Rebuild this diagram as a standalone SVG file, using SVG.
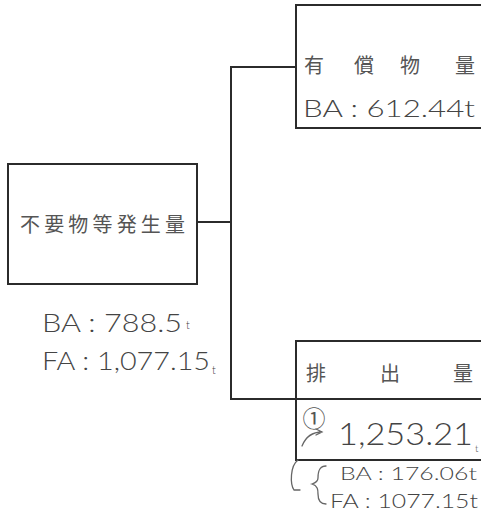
<svg xmlns="http://www.w3.org/2000/svg" width="481" height="516" viewBox="0 0 481 516">
<style>
.box{fill:#fff;stroke:#2b2b2b;stroke-width:2}
.ln{fill:none;stroke:#2b2b2b;stroke-width:2}
.lbl{font-family:"Noto Sans CJK JP","Noto Sans CJK SC",sans-serif;font-size:20px;fill:#555}
.hw{font-family:"Lato","Open Sans","Liberation Sans",sans-serif;font-weight:300;fill:#444}
.hwl{fill:none;stroke:#666;stroke-width:1.3;stroke-linecap:round}
</style>
<rect width="481" height="516" fill="#fff"/>
<g id="connectors">
<polyline class="ln" points="197,222 231,222"/>
<polyline class="ln" points="296,67 231,67 231,399 296,399"/>
</g>
<g id="node-source">
<rect class="box" x="8" y="164" width="189" height="120"/>
<text class="lbl" x="20" y="232" textLength="165" lengthAdjust="spacing">不要物等発生量</text>
<text class="hw" x="42" y="332" font-size="26" textLength="140" lengthAdjust="spacingAndGlyphs">BA : 788.5</text>
<text class="hw" x="186" y="329" font-size="11">t</text>
<text class="hw" x="42" y="370" font-size="26" textLength="168" lengthAdjust="spacingAndGlyphs">FA : 1,077.15</text>
<text class="hw" x="212" y="374" font-size="11">t</text>
</g>
<g id="node-valuable">
<rect class="box" x="296" y="5" width="200" height="123"/>
<text class="lbl" x="314" y="73" text-anchor="middle">有</text>
<text class="lbl" x="364" y="73" text-anchor="middle">償</text>
<text class="lbl" x="410" y="73" text-anchor="middle">物</text>
<text class="lbl" x="465" y="73" text-anchor="middle">量</text>
<text class="hw" x="303" y="117" font-size="24" textLength="172" lengthAdjust="spacingAndGlyphs">BA : 612.44t</text>
</g>
<g id="node-emission">
<rect class="box" x="296" y="341" width="200" height="119"/>
<line class="ln" x1="296" y1="399" x2="481" y2="399"/>
<text class="lbl" x="316" y="381" text-anchor="middle">排</text>
<text class="lbl" x="390" y="381" text-anchor="middle">出</text>
<text class="lbl" x="463" y="381" text-anchor="middle">量</text>
<text x="314" y="427" font-size="23" text-anchor="middle" font-family="'Noto Sans CJK JP',sans-serif" fill="#555">①</text>
<path class="hwl" d="M302,446 C306,436 314,432 322,432 M316,429 L322,432 L316,435"/>
<text class="hw" x="338" y="445" font-size="32" textLength="135" lengthAdjust="spacingAndGlyphs">1,253.21</text>
<text class="hw" x="475" y="452" font-size="10">t</text>
<path class="hwl" d="M298,460 C290,466 290,484 294,490 L300,490"/>
<path class="hwl" d="M326,466 C318,466 318,474 318,478 C318,482 312,484 312,484 C318,486 318,490 318,494 C318,500 320,504 326,504"/>
<text class="hw" x="340" y="480" font-size="17" textLength="137" lengthAdjust="spacingAndGlyphs">BA : 176.06t</text>
<text class="hw" x="330" y="508" font-size="20" textLength="148" lengthAdjust="spacingAndGlyphs">FA : 1077.15t</text>
</g>
</svg>
